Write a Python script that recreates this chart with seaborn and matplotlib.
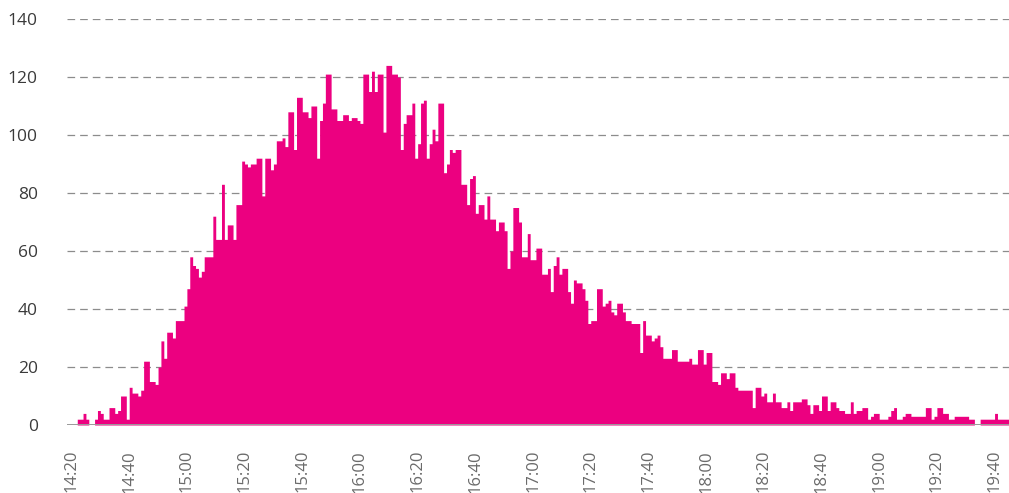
import numpy as np
import pandas as pd
import seaborn as sns
import matplotlib.pyplot as plt

# arrivals per minute, starting 14:20
counts = [
    0, 0, 2, 2, 4, 2, 0, 0, 2, 5,
    4, 2, 2, 6, 6, 4, 5, 10, 10, 2,
    13, 11, 11, 10, 12, 22, 22, 15, 15, 14,
    20, 29, 23, 32, 32, 30, 36, 36, 36, 41,
    47, 58, 55, 54, 51, 53, 58, 58, 58, 72,
    64, 64, 83, 64, 69, 69, 64, 76, 76, 91,
    90, 89, 90, 90, 92, 92, 79, 92, 92, 88,
    90, 98, 98, 99, 96, 108, 108, 95, 113, 113,
    108, 108, 106, 110, 110, 92, 105, 111, 121, 121,
    109, 109, 105, 105, 107, 107, 105, 106, 106, 105,
    104, 121, 121, 115, 122, 115, 121, 121, 101, 124,
    124, 121, 121, 120, 95, 104, 107, 107, 111, 92,
    97, 111, 112, 92, 97, 102, 98, 111, 111, 87,
    90, 95, 94, 95, 95, 83, 83, 76, 85, 86,
    73, 76, 76, 71, 79, 71, 71, 67, 70, 70,
    67, 54, 60, 75, 75, 70, 58, 58, 66, 57,
    57, 61, 61, 52, 52, 54, 46, 55, 58, 52,
    54, 54, 46, 42, 50, 49, 49, 47, 43, 35,
    36, 36, 47, 47, 41, 42, 43, 39, 38, 42,
    42, 39, 36, 36, 35, 35, 35, 25, 36, 31,
    31, 29, 30, 31, 27, 23, 23, 23, 26, 26,
    22, 22, 22, 22, 23, 21, 21, 26, 26, 21,
    25, 25, 15, 15, 14, 18, 18, 16, 18, 18,
    13, 12, 12, 12, 12, 12, 6, 13, 13, 10,
    11, 8, 8, 11, 8, 8, 6, 6, 8, 5,
    8, 8, 8, 9, 9, 7, 4, 7, 7, 5,
    10, 10, 5, 8, 8, 6, 5, 5, 4, 4,
    8, 4, 5, 5, 6, 6, 2, 3, 4, 4,
    2, 2, 2, 3, 5, 6, 2, 2, 3, 4,
    4, 3, 3, 3, 3, 3, 6, 6, 2, 3,
    6, 6, 4, 4, 2, 2, 3, 3, 3, 3,
    3, 2, 2, 0, 0, 2, 2, 2, 2, 2,
    4, 2, 2, 2, 2,
]

tick_labels = ["14:20", "14:40", "15:00", "15:20", "15:40", "16:00", "16:20",
               "16:40", "17:00", "17:20", "17:40", "18:00", "18:20", "18:40",
               "19:00", "19:20", "19:40"]
y_ticks = [0, 20, 40, 60, 80, 100, 120, 140]

n = len(counts)
df = pd.DataFrame({"minute": np.arange(n) + 0.5, "count": counts})

sns.set_theme(style="white")
plt.rcParams["font.family"] = ["Open Sans", "DejaVu Sans"]
plt.rcParams["lines.scale_dashes"] = False

fig = plt.figure(figsize=(10.09, 4.93), dpi=100)
ax = fig.add_axes([67 / 1009, 68 / 493, 942 / 1009, 406 / 493])

# dashed guide lines behind the bars
for v in y_ticks[1:]:
    ax.axhline(v, color="#8c8c8c", lw=0.9, linestyle=(0, (5.5, 3.6)), zorder=0)

pink = "#EC0080"
# one filled step outline, so no seams between neighbouring minutes
sns.histplot(data=df, x="minute", weights="count", bins=n, binrange=(0, n),
             element="step", fill=True, color=pink, alpha=1, linewidth=0, ax=ax)

ax.axhline(0, color="#9a9a9a", lw=1.4, zorder=3)

ax.set_xlim(-1.56, n)
ax.set_ylim(0, 140)
ax.set_xticks(np.arange(len(tick_labels)) * 20)
ax.set_xticklabels(tick_labels, rotation=90, fontsize=12, color="#6a6a6a")
ax.set_yticks(y_ticks)
ax.set_yticklabels([str(v) for v in y_ticks], fontsize=12.5, color="#3a3a3a")
ax.tick_params(axis="x", length=0, pad=18)
ax.tick_params(axis="y", length=0, pad=21)
ax.set_xlabel("")
ax.set_ylabel("")
for s in ax.spines.values():
    s.set_visible(False)

fig.savefig("out.png", dpi=100)
